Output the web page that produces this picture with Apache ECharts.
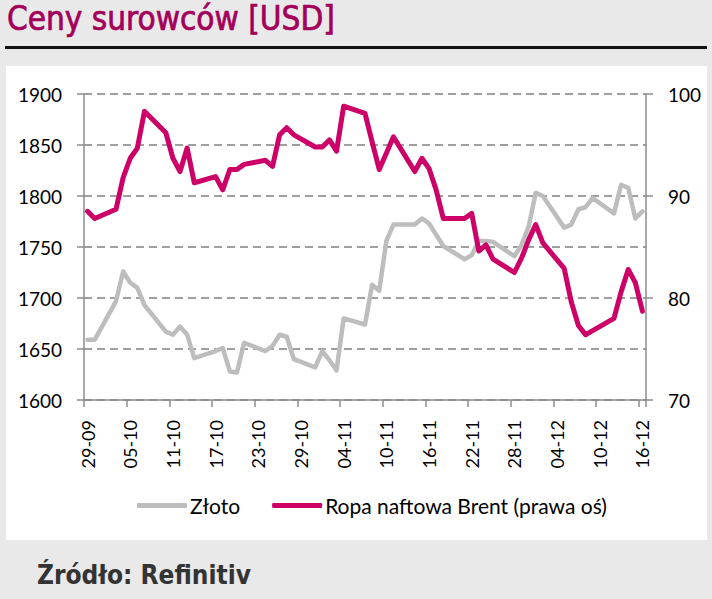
<!DOCTYPE html>
<html>
<head>
<meta charset="utf-8">
<script src="https://cdn.jsdelivr.net/npm/echarts@6/dist/echarts.min.js"></script>
<style>
  body { margin:0; background:#e9e9e9; width:712px; height:599px; overflow:hidden; position:relative;
         font-family:"DejaVu Sans Condensed","DejaVu Sans",sans-serif; }
  #title { position:absolute; left:7px; top:-1px; font-size:33px; color:#a3005a; white-space:nowrap;
           -webkit-text-stroke:0.7px #a3005a; }
  #rule { position:absolute; left:5px; top:46px; width:702px; height:3px; background:#111; }
  #chart { position:absolute; left:6px; top:66px; width:701px; height:474px; background:#fff; }
  #source { position:absolute; left:37px; top:560px; font-size:26px; font-weight:bold; color:#333; white-space:nowrap; }
</style>
</head>
<body>
<div id="title">Ceny surowców [USD]</div>
<div id="rule"></div>
<div id="chart"></div>
<div id="source">Źródło: Refinitiv</div>
<script>
// dni 29-09 .. 16-12 (weekendy bez notowań)
const days = [
  '29-09','30-09','01-10','02-10','03-10','04-10','05-10','06-10','07-10','08-10',
  '09-10','10-10','11-10','12-10','13-10','14-10','15-10','16-10','17-10','18-10',
  '19-10','20-10','21-10','22-10','23-10','24-10','25-10','26-10','27-10','28-10',
  '29-10','30-10','31-10','01-11','02-11','03-11','04-11','05-11','06-11','07-11',
  '08-11','09-11','10-11','11-11','12-11','13-11','14-11','15-11','16-11','17-11',
  '18-11','19-11','20-11','21-11','22-11','23-11','24-11','25-11','26-11','27-11',
  '28-11','29-11','30-11','01-12','02-12','03-12','04-12','05-12','06-12','07-12',
  '08-12','09-12','10-12','11-12','12-12','13-12','14-12','15-12','16-12'
];

// Złoto (lewa oś)
const gold = [
  1659,1659,null,null,1697,1726,1715,1710,1693,null,
  null,1667,1664,1672,1664,1641,null,null,1648,1651,
  1628,1627,1656,null,null,1648,1653,1664,1662,1640,
  null,null,1632,1648,1639,1629,1680,null,null,1674,
  1713,1707,1756,1772,null,null,1772,1778,1773,1762,
  1751,null,null,1738,1742,1756,1756,1755,null,null,
  1741,1752,1770,1803,1800,null,null,1769,1772,1787,
  1789,1798,null,null,1783,1811,1808,1778,1785
];

// Ropa naftowa Brent (prawa oś)
const brent = [
  88.5,87.8,null,null,88.7,91.8,93.7,94.7,98.3,null,
  null,96.2,93.7,92.4,94.7,91.3,null,null,91.9,90.6,
  92.6,92.6,93.1,null,null,93.5,92.9,96.0,96.7,96.0,
  null,null,94.8,94.8,95.5,94.4,98.8,null,null,98.1,
  95.3,92.6,94.2,95.8,null,null,92.4,93.7,92.7,90.6,
  87.8,null,null,87.8,88.3,84.6,85.2,83.8,null,null,
  82.5,83.9,85.7,87.2,85.4,null,null,82.9,79.6,77.3,
  76.4,76.8,null,null,78.0,80.6,82.8,81.5,78.7
];

const axisGrey = '#8c8c8c';
const font = 'Lato';

let chart = echarts.init(document.getElementById('chart'), null, { renderer: 'svg' });

chart.setOption({
  animation: false,
  backgroundColor: '#fff',
  grid: { left: 78, right: 61, top: 28, bottom: 140 },
  legend: {
    left: 126, top: 424,
    icon: 'roundRect',
    itemWidth: 50, itemHeight: 5, itemGap: 32,
    textStyle: { fontFamily: font, fontSize: 21, color: '#000', padding: [0, 0, 0, -2] },
    data: ['Złoto', 'Ropa naftowa Brent (prawa oś)']
  },
  xAxis: {
    type: 'category',
    data: days,
    boundaryGap: true,
    axisLine: { lineStyle: { color: axisGrey, width: 1.5 } },
    axisTick: { show: true, interval: 5, length: 7, lineStyle: { color: axisGrey, width: 1.5 } },
    axisLabel: { interval: 5, rotate: 90, margin: 20, fontFamily: font, fontSize: 18, color: '#000' },
    splitLine: { show: false }
  },
  yAxis: [
    {
      type: 'value', min: 1600, max: 1900, interval: 50,
      axisLine: { show: true, lineStyle: { color: axisGrey, width: 1.5 } },
      axisTick: { show: true, length: 7, lineStyle: { color: axisGrey, width: 1.5 } },
      axisLabel: { margin: 22, fontFamily: font, fontSize: 19, color: '#000', formatter: v => String(v) },
      splitLine: { show: true, lineStyle: { color: '#808080', width: 1.5, type: [8, 5] } }
    },
    {
      type: 'value', min: 70, max: 100, interval: 10, position: 'right',
      axisLine: { show: true, lineStyle: { color: axisGrey, width: 1.5 } },
      axisTick: { show: true, length: 7, lineStyle: { color: axisGrey, width: 1.5 } },
      axisLabel: { margin: 22, fontFamily: font, fontSize: 19, color: '#000', formatter: v => String(v) },
      splitLine: { show: false }
    }
  ],
  series: [
    {
      name: 'Złoto', type: 'line', yAxisIndex: 0,
      data: gold, connectNulls: true, symbol: 'none',
      itemStyle: { color: '#bdbdbd' },
      lineStyle: { color: '#bdbdbd', width: 4.5, cap: 'round', join: 'round' }
    },
    {
      name: 'Ropa naftowa Brent (prawa oś)', type: 'line', yAxisIndex: 1,
      data: brent, connectNulls: true, symbol: 'none',
      itemStyle: { color: '#cc0066' },
      lineStyle: { color: '#cc0066', width: 5, cap: 'round', join: 'round' }
    }
  ]
});
</script>
</body>
</html>
